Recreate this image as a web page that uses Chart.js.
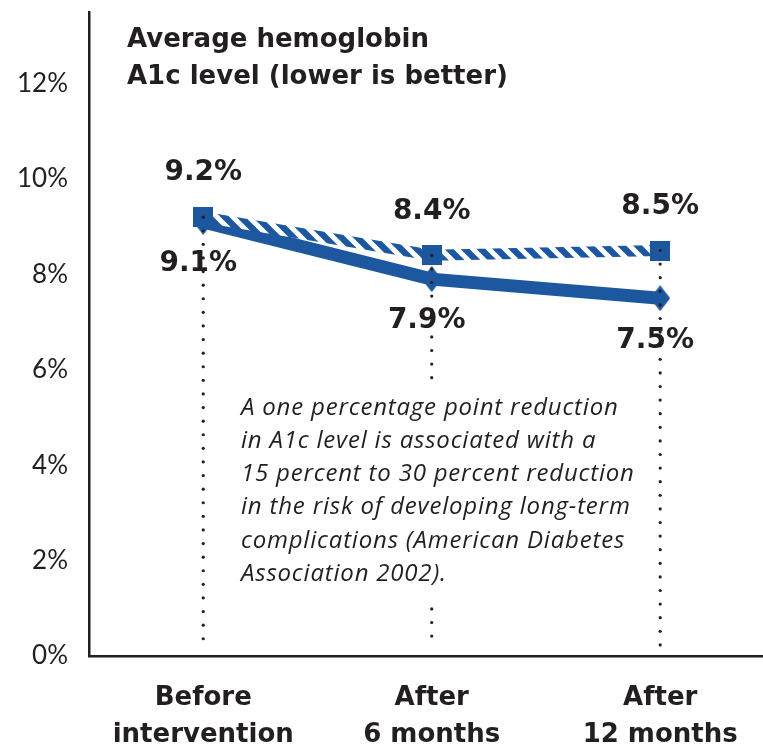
<!DOCTYPE html>
<html>
<head>
<meta charset="utf-8">
<script src="https://cdn.jsdelivr.net/npm/chart.js@4"></script>
<style>
  html, body { margin: 0; padding: 0; background: #fff; }
  #wrap { width: 763px; height: 748px; }
</style>
</head>
<body>
<div id="wrap"><canvas id="chart" width="763" height="748"></canvas></div>
<script>
// ===== Dados =====
const categories = [["Before", "intervention"], ["After", "6 months"], ["After", "12 months"]];
const hatchedValues = [9.2, 8.4, 8.5];
const solidValues = [9.1, 7.9, 7.5];
const yTicks = [0, 2, 4, 6, 8, 10, 12];
const titleLines = ["Average hemoglobin", "A1c level (lower is better)"];
const noteLines = [
  "A one percentage point reduction",
  "in A1c level is associated with a",
  "15 percent to 30 percent reduction",
  "in the risk of developing long-term",
  "complications (American Diabetes",
  "Association 2002)."
];

const BLUE = "#1c57a0";
const INK = "#231f20";
const BOLD_FONT = "'DejaVu Sans'";

// ===== Marcadores e padrão listrado =====
function makeCanvas(w, h, draw) {
  const c = document.createElement("canvas");
  c.width = w; c.height = h;
  draw(c.getContext("2d"), w, h);
  return c;
}

const squareMark = makeCanvas(20, 20, (g, w, h) => {
  g.fillStyle = BLUE;
  g.fillRect(0, 0, w, h);
});

const diamondMark = makeCanvas(20, 26, (g, w, h) => {
  g.fillStyle = BLUE;
  g.beginPath();
  g.moveTo(w / 2, 0);
  g.lineTo(w, h / 2);
  g.lineTo(w / 2, h);
  g.lineTo(0, h / 2);
  g.closePath();
  g.fill();
});

const stripeTile = makeCanvas(16, 16, (g, w, h) => {
  g.fillStyle = BLUE;
  g.fillRect(0, 0, w, h);
  g.strokeStyle = "#fff";
  g.lineWidth = 5;
  for (const k of [-16, 0, 16]) {
    g.beginPath();
    g.moveTo(k - 2, -2);
    g.lineTo(k + w + 2, h + 2);
    g.stroke();
  }
});
const ctx = document.getElementById("chart").getContext("2d");
const stripes = ctx.createPattern(stripeTile, "repeat");

// ===== Plugin: linhas pontilhadas, rótulos e textos =====
const decorations = {
  id: "decorations",
  afterDatasetsDraw(chart) {
    const g = chart.ctx;
    const area = chart.chartArea;
    const y = chart.scales.y;
    const x = chart.scales.x;

    // linhas pontilhadas de cada categoria até o eixo
    g.save();
    g.fillStyle = INK;
    categories.forEach((_, i) => {
      const px = x.getPixelForValue(i);
      const top = y.getPixelForValue(Math.max(hatchedValues[i], solidValues[i]));
      for (let py = top; py < area.bottom - 9; py += 13.6) {
        g.beginPath();
        g.arc(px, py, 1.6, 0, Math.PI * 2);
        g.fill();
      }
    });

    // caixa branca da nota
    g.fillStyle = "#fff";
    g.fillRect(236, 389, 406, 213);

    // nota em itálico
    g.fillStyle = INK;
    g.font = "italic 24px 'Open Sans'";
    g.letterSpacing = "0.8px";
    g.textAlign = "left";
    g.textBaseline = "middle";
    noteLines.forEach((line, i) => g.fillText(line, 241, 408 + i * 33.2));
    g.letterSpacing = "0px";

    // título
    g.font = "bold 26px " + BOLD_FONT;
    titleLines.forEach((line, i) => g.fillText(line, 127, 40 + i * 37));

    // rótulos de valores
    g.font = "bold 28px " + BOLD_FONT;
    g.textAlign = "center";
    const hMeta = chart.getDatasetMeta(0);
    const sMeta = chart.getDatasetMeta(1);
    hMeta.data.forEach((pt, i) => {
      g.fillText(hatchedValues[i].toFixed(1) + "%", pt.x, pt.y - 44);
    });
    sMeta.data.forEach((pt, i) => {
      g.fillText(solidValues[i].toFixed(1) + "%", pt.x - 5, pt.y + 42);
    });
    g.restore();
  }
};

// ===== Gráfico =====
new Chart(ctx, {
  type: "line",
  data: {
    datasets: [
      {
        data: hatchedValues.map((v, i) => ({ x: i, y: v })),
        borderColor: stripes,
        borderWidth: 11,
        pointStyle: squareMark,
        pointBackgroundColor: BLUE,
        tension: 0
      },
      {
        data: solidValues.map((v, i) => ({ x: i, y: v })),
        borderColor: BLUE,
        borderWidth: 13,
        pointStyle: diamondMark,
        pointBackgroundColor: BLUE,
        tension: 0
      }
    ]
  },
  options: {
    responsive: false,
    animation: false,
    events: [],
    layout: { autoPadding: false, padding: { top: 12, right: 0, left: 0, bottom: 0 } },
    plugins: { legend: { display: false }, tooltip: { enabled: false } },
    scales: {
      x: {
        type: "linear",
        min: -0.5,
        max: 2.45,
        grid: { display: false, drawTicks: false },
        border: { display: true, color: INK, width: 2.5 },
        afterBuildTicks: s => { s.ticks = categories.map((_, i) => ({ value: i })); },
        afterFit: s => {
          s.height = 92;
          s.paddingLeft = 0; s.paddingRight = 0;
        },
        ticks: {
          autoSkip: false,
          maxRotation: 0,
          padding: 24,
          color: INK,
          font: { family: "DejaVu Sans", weight: "bold", size: 26, lineHeight: 1.42 },
          callback: v => categories[v]
        }
      },
      y: {
        min: 0,
        max: 13.5,
        grid: { display: false, drawTicks: false },
        border: { display: true, color: INK, width: 2.5 },
        afterBuildTicks: s => { s.ticks = yTicks.map(v => ({ value: v })); },
        afterFit: s => {
          s.width = 89;
          s.paddingTop = 0; s.paddingBottom = 0;
        },
        ticks: {
          padding: 21,
          color: INK,
          font: { family: "Lato", size: 26 },
          callback: v => v + "%"
        }
      }
    }
  },
  plugins: [decorations]
});
</script>
</body>
</html>
